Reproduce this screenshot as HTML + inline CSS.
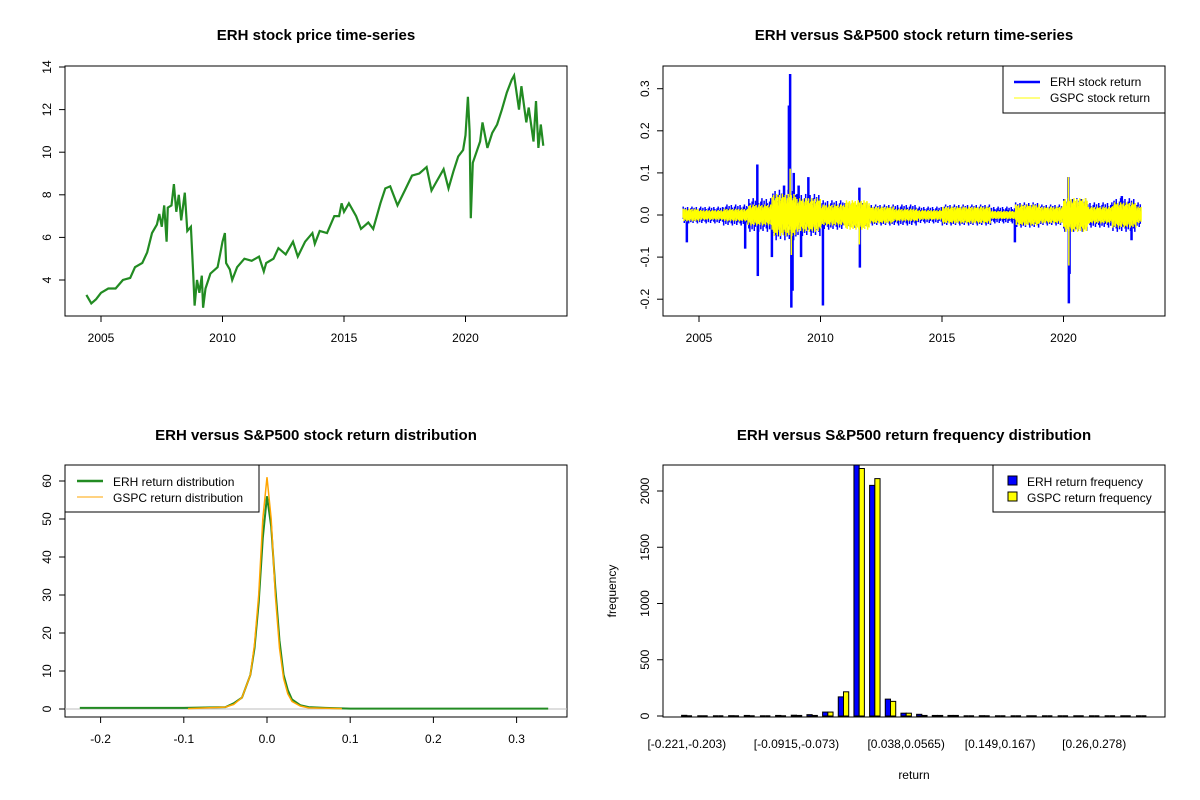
<!DOCTYPE html>
<html><head><meta charset="utf-8"><style>
body{margin:0;background:#fff}
svg{display:block;font-family:"Liberation Sans",Arial,sans-serif}
</style></head><body>
<svg id="c" width="1200" height="800" xmlns="http://www.w3.org/2000/svg"></svg>
<script>
// ---- data ----
const priceYears=[2004.4,2004.6,2004.8,2005.0,2005.3,2005.6,2005.9,2006.2,2006.4,2006.7,2006.9,2007.1,2007.3,2007.4,2007.5,2007.6,2007.7,2007.75,2007.9,2008.0,2008.1,2008.2,2008.3,2008.45,2008.55,2008.7,2008.8,2008.85,2008.95,2009.05,2009.15,2009.2,2009.3,2009.5,2009.8,2009.9,2010.0,2010.1,2010.15,2010.3,2010.4,2010.6,2010.9,2011.2,2011.5,2011.7,2011.8,2012.1,2012.3,2012.6,2012.9,2013.1,2013.4,2013.7,2013.8,2014.0,2014.3,2014.6,2014.8,2014.9,2015.0,2015.2,2015.5,2015.7,2016.0,2016.2,2016.5,2016.7,2016.9,2017.2,2017.5,2017.8,2018.1,2018.4,2018.6,2018.8,2019.1,2019.3,2019.5,2019.7,2019.9,2020.0,2020.1,2020.17,2020.22,2020.3,2020.6,2020.7,2020.9,2021.1,2021.3,2021.5,2021.7,2021.9,2022.0,2022.2,2022.3,2022.5,2022.6,2022.8,2022.9,2023.0,2023.1,2023.2];
const priceVals=[3.3,2.9,3.1,3.4,3.6,3.6,4.0,4.1,4.6,4.8,5.3,6.2,6.6,7.1,6.5,7.5,5.8,7.4,7.5,8.5,7.2,8.0,6.8,8.1,6.3,6.5,4.2,2.8,4.0,3.4,4.2,2.7,3.6,4.3,4.6,5.2,5.8,6.2,4.8,4.5,4.0,4.6,5.0,4.9,5.1,4.4,4.8,5.0,5.5,5.2,5.8,5.1,5.8,6.2,5.7,6.3,6.2,7.0,7.0,7.6,7.2,7.6,7.0,6.4,6.7,6.4,7.6,8.3,8.4,7.5,8.2,8.9,9.0,9.3,8.2,8.6,9.2,8.3,9.1,9.8,10.1,10.8,12.6,11.0,6.9,9.5,10.5,11.4,10.2,10.9,11.3,12.0,12.8,13.4,13.6,12.0,13.1,11.4,12.1,10.5,12.4,10.2,11.3,10.3];
const envYears=[2004,2005,2006,2007,2008,2009,2010,2011,2012,2013,2014,2015,2016,2017,2018,2019,2020,2021,2022,2023];
const erhEnv=[.02,.02,.025,.04,.06,.05,.035,.03,.025,.025,.02,.025,.025,.02,.03,.025,.04,.03,.04,.03];
const gspcEnv=[.015,.012,.015,.025,.05,.04,.025,.035,.02,.015,.012,.02,.02,.01,.025,.02,.04,.02,.03,.02];
const erhSpikeYears=[2004.5,2007.4,2007.42,2006.9,2008.0,2008.5,2008.7,2008.75,2008.8,2008.85,2008.9,2009.1,2009.2,2009.5,2010.1,2011.6,2011.62,2018.0,2020.2,2020.22,2020.25,2022.8,2022.4];
const erhSpikeVals=[-.065,.12,-.145,-.08,-.1,.07,.26,.335,-.22,-.18,.1,.07,-.1,.09,-.215,.065,-.125,-.065,.09,-.21,-.14,-.06,.045];
const gspcSpikeYears=[2008.75,2008.8,2011.6,2020.2,2020.22,2009.5];
const gspcSpikeVals=[.11,-.095,-.07,.09,-.12,.04];
const densX=[-0.225,-0.1,-0.05,-0.04,-0.03,-0.02,-0.015,-0.01,-0.005,0,0.005,0.01,0.015,0.02,0.025,0.03,0.04,0.05,0.07,0.1,0.338];
const erhDens=[0.3,0.3,0.5,1.5,3,9,16,28,45,56,48,32,18,9,5,2.5,1,0.5,0.3,0.1,0.1];
const gspcX=[-0.095,-0.05,-0.04,-0.03,-0.02,-0.015,-0.01,-0.005,0,0.005,0.01,0.015,0.02,0.025,0.03,0.04,0.05,0.09];
const gspcDens=[0.1,0.5,1.2,3,9,17,30,50,61,50,30,16,8,4,2,0.8,0.3,0.1];
const binLabels=["[-0.221,-0.203)","[-0.0915,-0.073)","[0.038,0.0565)","[0.149,0.167)","[0.26,0.278)"];
const binLabelIdx=[0,7,14,20,26];
const erhFreq=[6,0,0,3,5,0,5,7,12,35,170,2240,2050,150,25,15,5,5,0,3,0,0,0,0,0,0,0,0,0,0];
const gspcFreq=[0,0,0,0,0,0,0,5,5,35,215,2200,2110,130,25,5,5,5,0,0,0,0,0,0,0,0,0,0,0,0];

const S=document.getElementById('c');const NS='http://www.w3.org/2000/svg';
function el(t,a,txt){const e=document.createElementNS(NS,t);for(const k in a)e.setAttribute(k,a[k]);if(txt!==undefined)e.textContent=txt;S.appendChild(e);return e;}
function box(x0,y0,x1,y1,name){const e=el('rect',{x:x0,y:y0,width:x1-x0,height:y1-y0,fill:'none',stroke:'#000','stroke-width':1});

}
function title(x,y,t,name){const e=el('text',{x:x,y:y,'text-anchor':'middle','font-size':15,'font-weight':'bold'},t);

}
function xtick(px,y,lab){el('line',{x1:px,x2:px,y1:y,y2:y+6,stroke:'#000'});const e=el('text',{x:px,y:y+26,'text-anchor':'middle','font-size':12},lab);

}
function ytick(x,py,lab){el('line',{x1:x,x2:x-6,y1:py,y2:py,stroke:'#000'});const e=el('text',{x:x-14,y:py,'text-anchor':'middle','font-size':12,transform:`rotate(-90 ${x-14} ${py})`},lab);

}
function poly(pts,stroke,w,name){const e=el('polyline',{points:pts.map(p=>p[0].toFixed(1)+','+p[1].toFixed(1)).join(' '),fill:'none',stroke:stroke,'stroke-width':w});

}

// ---- panel 1: price ----
const X1=y=>101+(y-2005)*24.3;const Y1=v=>280-(v-4)*21.3;
box(65,66,567,316,'price-plot-area');
title(316,40,'ERH stock price time-series','price-chart-title');
[2005,2010,2015,2020].forEach(y=>xtick(X1(y),316,y));
[4,6,8,10,12,14].forEach(v=>ytick(65,Y1(v),v));
poly(priceYears.map((y,i)=>[X1(y),Y1(priceVals[i])]),'#228B22',2.2,'erh-price-line');

// ---- panel 2: returns ----
const X2=y=>X1(y)+598;const Y2=v=>215-v*421;
box(663,66,1165,316,'returns-plot-area');
title(914,40,'ERH versus S&P500 stock return time-series','returns-chart-title');
[2005,2010,2015,2020].forEach(y=>xtick(X2(y),316,y));
[-0.2,-0.1,0,0.1,0.2,0.3].forEach(v=>ytick(663,Y2(v),v.toFixed(1)));
const jit=[1,.6,.85,.45,.95,.7,.55,.8];
function envAt(arr,y){const i=Math.max(0,Math.min(arr.length-1,Math.floor(y-2004)));return arr[i];}
function drawEnv(arr,col,name,step){let k=0;for(let y=2004.35;y<=2023.2;y+=step){const a=envAt(arr,y);const e=el('line',{x1:X2(y),x2:X2(y),y1:Y2(a*jit[k%8]),y2:Y2(-a*jit[(k+3)%8]),stroke:col,'stroke-width':1.5});

k++;}}
drawEnv(erhEnv,'#0000FF','erh-return-bar',0.045);
erhSpikeYears.forEach((y,i)=>{const e=el('line',{x1:X2(y),x2:X2(y),y1:Y2(0),y2:Y2(erhSpikeVals[i]),stroke:'#0000FF','stroke-width':2.5});

});
drawEnv(gspcEnv,'#FFFF00','gspc-return-bar',0.03);
gspcSpikeYears.forEach((y,i)=>{const e=el('line',{x1:X2(y),x2:X2(y),y1:Y2(0),y2:Y2(gspcSpikeVals[i]),stroke:'#FFFF00','stroke-width':1.5});

});
{const g=el('rect',{x:1003,y:66,width:162,height:47,fill:'#fff',stroke:'#000'});
el('line',{x1:1014,x2:1040,y1:82,y2:82,stroke:'#0000FF','stroke-width':2.5});
const a=el('text',{x:1050,y:86,'font-size':12},'ERH stock return');
el('line',{x1:1014,x2:1040,y1:98,y2:98,stroke:'#FFFF00','stroke-width':1});
const b=el('text',{x:1050,y:102,'font-size':12},'GSPC stock return');}

// ---- panel 3: density ----
const X3=v=>267+v*832;const Y3=v=>709-v*3.8;
box(65,465,567,717,'density-plot-area');
title(316,440,'ERH versus S&P500 stock return distribution','density-chart-title');
[-0.2,-0.1,0,0.1,0.2,0.3].forEach(v=>xtick(X3(v),717,v.toFixed(1)));
[0,10,20,30,40,50,60].forEach(v=>ytick(65,Y3(v),v));
el('line',{x1:65,x2:567,y1:Y3(0),y2:Y3(0),stroke:'#bebebe'});
poly(densX.map((x,i)=>[X3(x),Y3(erhDens[i])]),'#228B22',2,'erh-density-line');
poly(gspcX.map((x,i)=>[X3(x),Y3(gspcDens[i])]),'#FFA500',1.5,'gspc-density-line');
{const g=el('rect',{x:65,y:465,width:194,height:47,fill:'#fff',stroke:'#000'});
el('line',{x1:77,x2:103,y1:481,y2:481,stroke:'#228B22','stroke-width':2.5});
const a=el('text',{x:113,y:486,'font-size':12},'ERH return distribution');
el('line',{x1:77,x2:103,y1:497,y2:497,stroke:'#FFA500','stroke-width':1});
const b=el('text',{x:113,y:502,'font-size':12},'GSPC return distribution');}

// ---- panel 4: histogram ----
const NB=erhFreq.length;const UW=502/((3*NB-1)*1.08);
const U=u=>663+(u-1+0.04*(3*NB-1))*UW;const Y4=v=>716-v*0.1125;
title(914,440,'ERH versus S&P500 return frequency distribution','histogram-chart-title');
function hbar(u,f,col,name){const top=Math.max(465,Y4(f));
if(f<=0){const z=el('line',{x1:U(u),x2:U(u+1),y1:Y4(0),y2:Y4(0),stroke:'#000','stroke-width':1.5});

return;}
const a=el('rect',{x:U(u),y:top,width:UW,height:Math.max(1,Y4(0)-top),fill:col,stroke:'#000','stroke-width':1});

}
erhFreq.forEach((f,i)=>{const u0=3*i+1;hbar(u0,f,'#0000FF','bar-erh');hbar(u0+1,gspcFreq[i],'#FFFF00','bar-gspc');});
box(663,465,1165,717,'histogram-plot-area');
[0,500,1000,1500,2000].forEach(v=>ytick(663,Y4(v),v));
binLabels.forEach((l,k)=>{const i=binLabelIdx[k];const e=el('text',{x:U(3*i+2),y:748,'text-anchor':'middle','font-size':12},l);

});
{const e=el('text',{x:914,y:779,'text-anchor':'middle','font-size':12},'return');
const f=el('text',{x:616,y:591,'text-anchor':'middle','font-size':12,transform:'rotate(-90 616 591)'},'frequency');
const g=el('rect',{x:993,y:465,width:172,height:47,fill:'#fff',stroke:'#000'});
el('rect',{x:1008,y:476,width:9,height:9,fill:'#0000FF',stroke:'#000'});
const a=el('text',{x:1027,y:486,'font-size':12},'ERH return frequency');
el('rect',{x:1008,y:492,width:9,height:9,fill:'#FFFF00',stroke:'#000'});
const b=el('text',{x:1027,y:502,'font-size':12},'GSPC return frequency');}
</script>
</body></html>
